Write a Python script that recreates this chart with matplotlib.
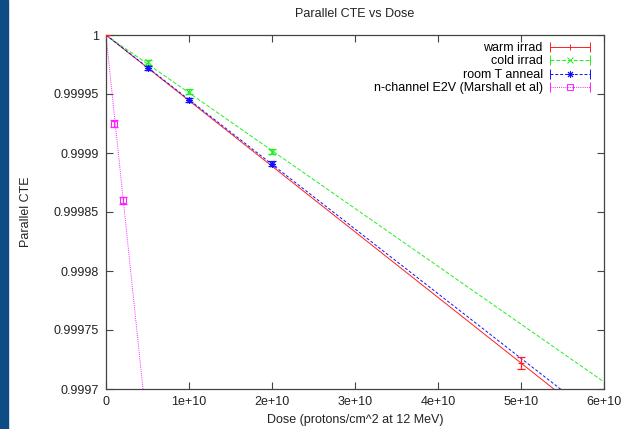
import matplotlib
matplotlib.use('Agg')
import matplotlib.pyplot as plt
import numpy as np
from matplotlib.lines import Line2D
from matplotlib.patches import Rectangle
from matplotlib.legend_handler import HandlerBase

plt.rcParams['font.family'] = ['Liberation Sans', 'DejaVu Sans']
plt.rcParams['font.size'] = 9

# data
dose_warm = [0.0, 5e10]
cte_warm = [1.0, 0.999722]
err_warm = [0.0, 5e-6]

dose_cold = [5e9, 1e10, 2e10]
cte_cold = [0.999977, 0.999952, 0.999901]
err_cold = [2e-6, 2e-6, 2e-6]

dose_anneal = [5e9, 1e10, 2e10]
cte_anneal = [0.999972, 0.999945, 0.999891]
err_anneal = [2e-6, 2e-6, 2e-6]

dose_e2v = [1e9, 2e9]
cte_e2v = [0.999925, 0.99986]
err_e2v = [3e-6, 3e-6]

# fitted slopes (CTE loss per proton/cm^2), lines start at CTE = 1
slope_warm = -5.56e-15
slope_cold = -4.90e-15
slope_anneal = -5.48e-15
slope_e2v = -6.73e-14

labels = ['warm irrad', 'cold irrad', 'room T anneal', 'n-channel E2V (Marshall et al)']
colors = ['#ff2020', '#20f020', '#1010ff', '#ff20ff']
styles = ['-', (0, (4, 2)), (0, (3, 2)), (0, (1, 1.2))]
markers = ['+', 'x', (8, 2, 0), 's']

xticks = [0, 1e10, 2e10, 3e10, 4e10, 5e10, 6e10]
xticklabels = ['0', '1e+10', '2e+10', '3e+10', '4e+10', '5e+10', '6e+10']
yticks = [0.9997, 0.99975, 0.9998, 0.99985, 0.9999, 0.99995, 1.0]
yticklabels = ['0.9997', '0.99975', '0.9998', '0.99985', '0.9999', '0.99995', '1']


class KeyHandler(HandlerBase):
    # gnuplot style key sample: |---o---|
    def __init__(self, color, ls, marker):
        super().__init__()
        self.color, self.ls, self.marker = color, ls, marker

    def create_artists(self, legend, orig, xd, yd, w, h, fontsize, trans):
        y = h / 2 - yd
        x0, x1 = -xd, -xd + w
        line = Line2D([x0, x1], [y, y], color=self.color, ls=self.ls, lw=0.7, transform=trans)
        caps = Line2D([x0, x1], [y, y], color=self.color, ls='none', marker='|',
                      markersize=7, mew=0.7, transform=trans)
        mid = Line2D([(x0 + x1) / 2], [y], color=self.color, ls='none', marker=self.marker,
                     markersize=5, mew=0.7, fillstyle='none', transform=trans)
        return [line, caps, mid]


fig = plt.figure(figsize=(6.25, 4.29), dpi=100)
fig.patches.append(Rectangle((0, 0), 8 / 625, 1, transform=fig.transFigure,
                             color='#0e4c86', zorder=0))
ax = fig.add_axes([106 / 625, 1 - 389 / 429, 498 / 625, 354 / 429])

xs = np.array([0, 6e10])
sets = [(dose_warm, cte_warm, err_warm, slope_warm),
        (dose_cold, cte_cold, err_cold, slope_cold),
        (dose_anneal, cte_anneal, err_anneal, slope_anneal),
        (dose_e2v, cte_e2v, err_e2v, slope_e2v)]

handles = []
handler_map = {}
for (d, c, e, s), lab, col, ls, mk in zip(sets, labels, colors, styles, markers):
    ax.plot(xs, 1 + s * xs, color=col, ls=ls, lw=0.7, zorder=2)
    ax.errorbar(d, c, yerr=e, fmt='none', ecolor=col, elinewidth=0.9, capsize=3,
                capthick=0.9, zorder=4)
    ax.plot(d, c, ls='none', marker=mk, color=col, markersize=5, mew=0.8,
            fillstyle='none', zorder=4)
    h = Line2D([], [], color=col)
    handles.append(h)
    handler_map[h] = KeyHandler(col, ls, mk)

ax.set_xlim(0, 6e10)
ax.set_ylim(0.9997, 1.0)
ax.set_xticks(xticks)
ax.set_xticklabels(xticklabels)
ax.set_yticks(yticks)
ax.set_yticklabels(yticklabels)
ax.tick_params(direction='in', length=5, width=0.8, color='#444444', top=True, right=True,
               labeltop=False, labelright=False, pad=5, labelcolor='#222222')
for sp in ax.spines.values():
    sp.set_color('#444444')
    sp.set_linewidth(0.9)

ax.set_title('Parallel CTE vs Dose', pad=13, fontsize=9, color='#222222')
ax.set_xlabel('Dose (protons/cm^2 at 12 MeV)', color='#222222')
ax.set_ylabel('Parallel CTE', color='#222222')
ax.xaxis.set_label_coords(0.5, -0.072)
ax.yaxis.set_label_coords(-0.148, 0.5)

ax.legend(handles, labels, handler_map=handler_map, loc='upper right', frameon=False,
          markerfirst=False, handlelength=3.2, handletextpad=0.6, labelspacing=0.12,
          borderaxespad=0.3, bbox_to_anchor=(0.99, 1.005), fontsize=9)

fig.savefig('out.png', dpi=100)
